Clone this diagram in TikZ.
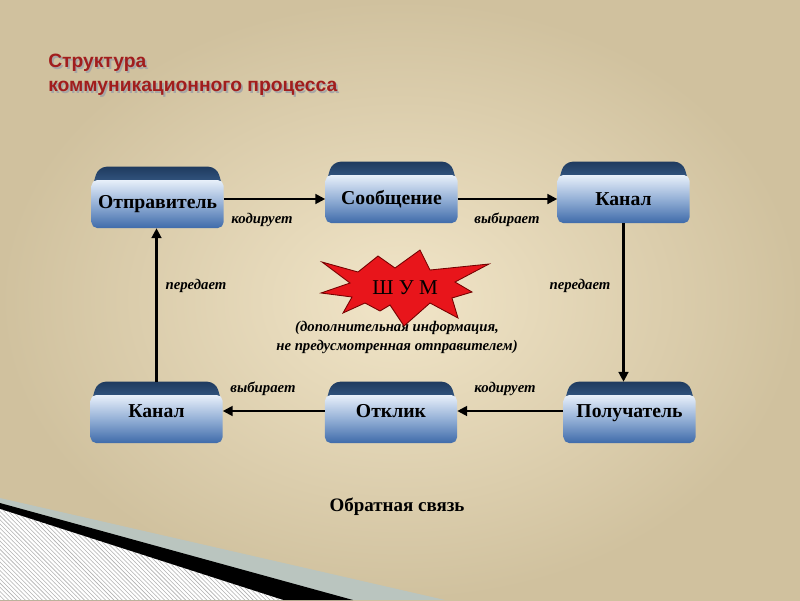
\documentclass[tikz,border=0pt]{standalone}
\usepackage{fontspec}
\setmainfont{Liberation Serif}
\newfontfamily\titlefont{Liberation Sans}
\usetikzlibrary{arrows.meta,calc,patterns}
\pgfdeclarelayer{back}
\pgfdeclarelayer{caps}
\pgfsetlayers{back,caps,main}

\definecolor{bgin}{HTML}{F1E5C8}
\definecolor{bgout}{HTML}{D0C19E}
\definecolor{boxtop}{HTML}{E8F0FA}
\definecolor{boxmid}{HTML}{94B0D6}
\definecolor{boxbot}{HTML}{3F6BAA}
\definecolor{captop}{HTML}{1F3B5F}
\definecolor{capbot}{HTML}{3A5F8C}
\definecolor{titlered}{HTML}{A11D1D}
\definecolor{noisered}{HTML}{E8151B}
\definecolor{stripgrey}{HTML}{BAC5BF}

\tikzset{
	box/.style={rounded corners=4pt, minimum width=3.3cm, minimum height=1.2cm, inner sep=0pt,
		top color=boxtop, bottom color=boxbot, middle color=boxmid,
		font=\fontsize{14}{16}\selectfont\bfseries},
	lowbox/.style={box, text height=9pt, text depth=11pt},
	lbl/.style={font=\fontsize{10.5}{13.5}\selectfont\bfseries\itshape},
	arr/.style={-{Triangle[length=7pt,width=7pt]}, line width=1.5pt},
	ttl/.style={anchor=west, inner sep=0pt, text=titlered, font=\titlefont\fontsize{13.7}{16}\selectfont\bfseries},
}

\begin{document}
\begin{tikzpicture}[x=0.025cm, y=-0.025cm]
	\useasboundingbox (0,0) rectangle (800,600);

	% background and corner strip
	\begin{pgfonlayer}{back}
		\shade[inner color=bgin, outer color=bgout] (0,0) rectangle (800,600);
		\fill[stripgrey] (0,498) -- (445,600) -- (0,600) -- cycle;
		\fill[black] (0,503) -- (353,600) -- (0,600) -- cycle;
		\fill[white] (0,509) -- (283,600) -- (0,600) -- cycle;
		\fill[pattern=north west lines, pattern color=gray!60] (0,509) -- (283,600) -- (0,600) -- cycle;
	\end{pgfonlayer}

	% title
	\node[ttl, text=gray!70] at (49.8,64.8) {Структура};
	\node[ttl, text=gray!70] at (49.8,89.8) {коммуникационного процесса};
	\node[ttl] (title1) at (48,63) {Структура};
	\node[ttl] (title2) at (48,88) {коммуникационного процесса};

	% boxes
	\node[box] (sender) at (157.5,204) {Отправитель};
	\node[box] (message) at (391.5,199) {Сообщение};
	\node[box] (chanA) at (623.5,199) {Канал};
	\node[lowbox] (chanB) at (156.5,419) {Канал};
	\node[lowbox] (reply) at (391,419) {Отклик};
	\node[lowbox] (receiver) at (629.5,419) {Получатель};

	\begin{pgfonlayer}{caps}
		\foreach \n in {sender,message,chanA,chanB,reply,receiver}
			\shade[top color=captop, bottom color=capbot] ($(\n.north west)+(1,8)$)
				[rounded corners=6pt] -- ($(\n.north west)+(7,-13)$) -- ($(\n.north east)+(-7,-13)$)
				[sharp corners] -- ($(\n.north east)+(-1,8)$) -- cycle;
	\end{pgfonlayer}

	% connectors
	\draw[arr] (sender.east |- message) -- (message.west);
	\draw[arr] (message.east) -- (chanA.west);
	\draw[arr] (chanA.south) -- ($(chanA.south |- receiver.north)+(0,-13)$);
	\draw[arr] ($(receiver.west)+(0,-8)$) -- ($(reply.east)+(0,-8)$);
	\draw[arr] ($(reply.west)+(0,-8)$) -- ($(chanB.east)+(0,-8)$);
	\draw[arr] ($(chanB.north)+(0,-13)$) -- (chanB.north |- sender.south);

	\node[lbl] at (262,220) {кодирует};
	\node[lbl] at (507,220) {выбирает};
	\node[lbl] at (580,286) {передает};
	\node[lbl] at (196,286) {передает};
	\node[lbl] at (505,389) {кодирует};
	\node[lbl] at (263,389) {выбирает};

	% noise
	\node[lbl, align=center] (note) at (397,337.5) {(дополнительная информация,\\не предусмотренная отправителем)};
	\filldraw[fill=noisered, draw=red!45!black, line width=0.6pt]
		(322,262) -- (358,272) -- (378,256) -- (395,268) -- (420,250) -- (430,270)
		-- (489,264) -- (455,282) -- (472,292) -- (452,298) -- (458,318) -- (430,303)
		-- (404,326) -- (390,305) -- (380,311) -- (365,303) -- (343,313) -- (352,297)
		-- (321,293) -- (350,283) -- cycle;
	\node[font=\fontsize{15}{17}\selectfont] (noise) at (405,288) {Ш У М};

	\node[font=\fontsize{13.5}{16}\selectfont\bfseries] (feedback) at (397,507) {Обратная связь};
\end{tikzpicture}
\end{document}
